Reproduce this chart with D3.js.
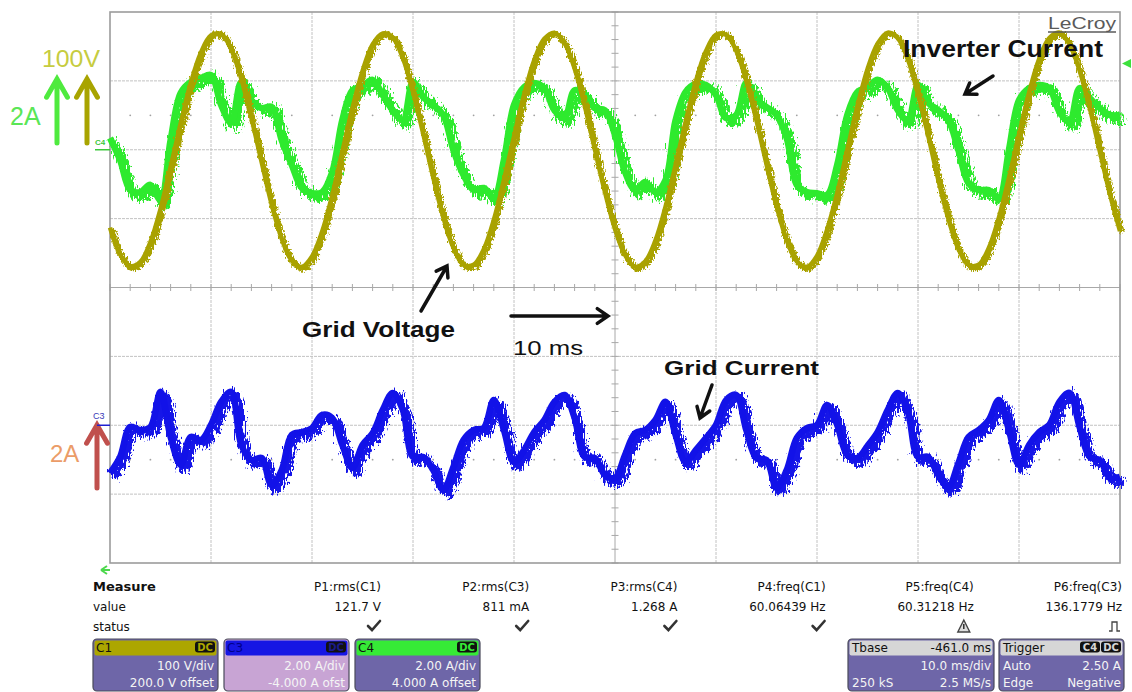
<!DOCTYPE html>
<html><head><meta charset="utf-8">
<script src="https://cdn.jsdelivr.net/npm/d3@7"></script>
<style>
html,body{margin:0;padding:0;background:#fff;}
svg{display:block;}
</style></head><body>
<svg id="scope" width="1132" height="692"></svg>
<script>
// Scope capture: grid voltage (C1), grid current (C3), inverter current (C4)
// Samples are 1 ms apart across the 10 div x 10 ms/div screen.
const sampleStepMs = 1;

// C1, volts
const gridVoltage = [
 -113,-152,-169,-163,-134,-86,-25,38,97,141,166,168,146,103,46,-17,-79,-129,-161,-170,
 -155,-119,-66,-3,60,114,153,169,163,133,84,24,-40,-98,-142,-167,-167,-145,-102,-44,
 19,80,130,161,170,155,118,64,1,-61,-115,-153,-170,-162,-132,-83,-22,41,99,143,
 167,167,144,100,43,-21,-82,-131,-162,-170,-154,-116,-63,0,63,117,154,170,162,131,
 81,21,-43,-100,-144,-167,-167,-143,-99,-41,22,83,132,162,170,153,115,61,-2,-64,-118
];

// C4, amps
const inverterCurrent = [
 0.34,-0.30,-1.17,-1.23,-1.02,-1.46,0.28,1.65,1.97,2.08,2.17,1.30,0.78,1.97,1.44,1.21,1.24,0.28,-0.44,-1.11,
 -1.26,-1.23,-0.65,0.86,1.73,1.85,2.03,1.59,1.15,0.86,1.97,1.53,1.30,1.01,-0.01,-0.73,-1.17,-1.11,-1.40,-0.30,
 1.30,1.82,1.94,1.79,1.15,0.92,1.73,1.59,1.21,1.15,0.43,-0.65,-1.17,-0.94,-1.23,-0.88,0.86,1.68,1.91,1.88,
 1.59,0.92,1.01,1.94,1.44,1.24,1.01,0.34,-1.02,-1.23,-1.26,-1.31,-0.44,1.01,1.68,1.82,2.03,1.79,1.15,0.86,
 1.88,1.36,1.15,0.86,-0.01,-0.97,-1.17,-1.17,-1.40,-0.01,1.44,1.79,1.88,1.79,1.10,0.81,1.79,1.50,1.21,1.01,1.01
];

// C3, amps
const gridCurrent = [
 -1.39,-0.92,-0.05,-0.14,-0.05,0.97,-0.34,-1.15,-0.34,-0.43,0.01,0.68,0.97,-0.57,-1.01,-0.95,-1.74,-1.30,-0.28,-0.20,
 -0.08,0.30,0.21,-0.57,-1.24,-0.57,-0.23,0.44,0.94,0.44,-0.92,-0.92,-1.30,-1.88,-1.21,-0.43,-0.14,-0.08,0.73,-0.14,
 -1.07,-0.72,-0.20,0.15,0.68,0.88,0.21,-0.92,-0.95,-1.44,-1.53,-0.86,-0.23,-0.14,0.15,0.68,-0.28,-1.07,-0.72,-0.37,
 0.01,0.73,0.88,-0.14,-0.95,-1.01,-1.82,-1.30,-0.37,-0.08,0.01,0.59,0.01,-0.86,-0.95,-0.60,-0.20,0.44,0.94,0.38,
 -0.92,-0.92,-1.44,-1.79,-1.10,-0.34,-0.14,0.15,0.73,-0.14,-1.15,-0.57,-0.20,0.01,0.68,0.94,-0.05,-0.92,-1.01,-1.53,-1.50
];

// Parameter readout
const measureNames  = ["P1:rms(C1)","P2:rms(C3)","P3:rms(C4)","P4:freq(C1)","P5:freq(C4)","P6:freq(C3)"];
const measureValues = ["121.7 V","811 mA","1.268 A","60.06439 Hz","60.31218 Hz","136.1779 Hz"];
const measureStatus = ["ok","ok","ok","ok","warn","pulse"];
const measureRows   = ["Measure","value","status"];

// Channel descriptor boxes
const chanNames   = ["C1","C3","C4"];
const chanScales  = ["100 V/div","2.00 A/div","2.00 A/div"];
const chanOffsets = ["200.0 V offset","-4.000 A ofst","4.000 A offset"];
const chanColors  = ["#aca600","#1616e4","#36ea36"];
const chanBodies  = ["#6e66a8","#c8a4d4","#6e66a8"];

// Timebase / trigger boxes
const tbaseHead = ["Tbase","-461.0 ms"];
const tbaseRow1 = ["","10.0 ms/div"];
const tbaseRow2 = ["250 kS","2.5 MS/s"];
const trigHead  = ["Trigger"];
const trigRow1  = ["Auto","2.50 A"];
const trigRow2  = ["Edge","Negative"];

const traceColors = {c1:"#a9a200", c3:"#1212e8", c4:"#2eea2e"};

// ---------------------------------------------------------------
const svg = d3.select("#scope");
const frame = {left:110, right:1120, top:12, bottom:563};
const DIVS_Y = 8;

const x = d3.scaleLinear().domain([0, 100]).range([frame.left, frame.right]);
function channelScale(perDiv, offset) {
  const c = -offset;
  return d3.scaleLinear().domain([c - DIVS_Y/2*perDiv, c + DIVS_Y/2*perDiv]).range([frame.bottom, frame.top]);
}
const yC1 = channelScale(100, 200);
const yC4 = channelScale(2, 4);
const yC3 = channelScale(2, -4);

const defs = svg.append("defs");
function fuzzFilter(id, fx, fy, scale, seed) {
  const f = defs.append("filter").attr("id", id)
    .attr("x", "-2%").attr("y", "-30%").attr("width", "104%").attr("height", "160%");
  f.append("feTurbulence").attr("type", "turbulence")
    .attr("baseFrequency", fx + " " + fy).attr("numOctaves", 2).attr("seed", seed).attr("result", "n");
  f.append("feDisplacementMap").attr("in", "SourceGraphic").attr("in2", "n")
    .attr("scale", scale).attr("xChannelSelector", "R").attr("yChannelSelector", "G");
}
fuzzFilter("fuzzCur", 0.9, 0.12, 15, 4);
fuzzFilter("fuzzBlue", 0.9, 0.12, 14, 9);
fuzzFilter("fuzzVolt", 0.9, 0.2, 7, 2);

// ---- graticule
const grid = svg.append("g");
const midV = yC1(-200);
const midT = x(50);
d3.range(10, 100, 10).forEach(t => {
  grid.append("line").attr("x1", x(t)).attr("x2", x(t)).attr("y1", frame.top).attr("y2", frame.bottom)
    .attr("stroke", t === 50 ? "#a8a8a8" : "#c2c2c2").attr("stroke-width", 1)
    .attr("stroke-dasharray", t === 50 ? null : "3,1");
});
d3.range(-500, 200, 100).forEach(v => {
  grid.append("line").attr("x1", frame.left).attr("x2", frame.right).attr("y1", yC1(v)).attr("y2", yC1(v))
    .attr("stroke", v === -200 ? "#a8a8a8" : "#c2c2c2").attr("stroke-width", 1)
    .attr("stroke-dasharray", v === -200 ? null : "3,1");
});
// minor ticks on the centre axes
d3.range(0, 101, 2).forEach(t => {
  grid.append("line").attr("x1", x(t)).attr("x2", x(t)).attr("y1", midV - 3.5).attr("y2", midV + 3.5)
    .attr("stroke", "#a8a8a8").attr("stroke-width", 1);
});
d3.range(-600, 201, 20).forEach(v => {
  grid.append("line").attr("x1", midT - 3.5).attr("x2", midT + 3.5).attr("y1", yC1(v)).attr("y2", yC1(v))
    .attr("stroke", "#a8a8a8").attr("stroke-width", 1);
});
// dotted half-division rows
[50, -450].forEach(v => {
  d3.range(2, 100, 2).filter(t => t % 10 !== 0).forEach(t => {
    grid.append("circle").attr("cx", x(t)).attr("cy", yC1(v)).attr("r", 0.9).attr("fill", "#a0a0a0");
  });
});
grid.append("rect").attr("x", frame.left).attr("y", frame.top)
  .attr("width", frame.right - frame.left).attr("height", frame.bottom - frame.top)
  .attr("fill", "none").attr("stroke", "#9c9c9c").attr("stroke-width", 1.6);

// ---- traces
const times = gridVoltage.map((_, i) => i * sampleStepMs);
function drawTrace(values, yScale, color, filterId, fuzzW, coreW, curve) {
  const line = d3.line().x((d, i) => x(times[i])).y(d => yScale(d)).curve(curve);
  const g = svg.append("g");
  g.append("path").datum(values).attr("d", line).attr("fill", "none")
    .attr("stroke", color).attr("stroke-width", fuzzW).attr("stroke-linejoin", "round")
    .attr("filter", "url(#" + filterId + ")");
  g.append("path").datum(values).attr("d", line).attr("fill", "none")
    .attr("stroke", color).attr("stroke-width", coreW).attr("stroke-linejoin", "round");
}
drawTrace(inverterCurrent, yC4, traceColors.c4, "fuzzCur", 9, 6.5, d3.curveCatmullRom.alpha(0.5));
drawTrace(gridVoltage, yC1, traceColors.c1, "fuzzVolt", 6, 4.5, d3.curveCatmullRom.alpha(0.5));
drawTrace(gridCurrent, yC3, traceColors.c3, "fuzzBlue", 9, 6.5, d3.curveCatmullRom.alpha(0.5));

// ---- annotations
const ann = svg.append("g").attr("font-family", "'Liberation Sans', Arial, sans-serif");
function arrow(x1, y1, x2, y2, color, w, head, spread) {
  const a = Math.atan2(y2 - y1, x2 - x1);
  const p = d3.path();
  p.moveTo(x1, y1); p.lineTo(x2, y2);
  p.moveTo(x2 - head * Math.cos(a - spread), y2 - head * Math.sin(a - spread));
  p.lineTo(x2, y2);
  p.lineTo(x2 - head * Math.cos(a + spread), y2 - head * Math.sin(a + spread));
  ann.append("path").attr("d", p.toString()).attr("fill", "none").attr("stroke", color)
    .attr("stroke-width", w).attr("stroke-linecap", "round").attr("stroke-linejoin", "miter");
}
arrow(57, 143, 57, 79, "#4fea3e", 5, 21, 0.52);
arrow(87, 143, 87, 79, "#a8a400", 5, 21, 0.52);
arrow(97, 488, 97, 425, "#c0504d", 5, 21, 0.52);

ann.append("text").attr("x", 42).attr("y", 67).attr("font-size", 24).attr("fill", "#c6cc40")
  .attr("textLength", 58).attr("lengthAdjust", "spacingAndGlyphs").text("100V");
ann.append("text").attr("x", 10).attr("y", 125).attr("font-size", 25).attr("fill", "#5ae656").text("2A");
ann.append("text").attr("x", 50).attr("y", 462).attr("font-size", 24).attr("fill", "#eb9c68").text("2A");

// channel ground markers
ann.append("text").attr("x", 95).attr("y", 145).attr("font-size", 8).attr("font-weight", "bold")
  .attr("fill", "#3cc83c").text("C4");
ann.append("line").attr("x1", 95).attr("x2", 110).attr("y1", yC4(0)).attr("y2", yC4(0))
  .attr("stroke", "#3cc83c").attr("stroke-width", 1.5);
ann.append("text").attr("x", 93).attr("y", 419).attr("font-size", 9)
  .attr("fill", "#3a3ab8").text("C3");
ann.append("line").attr("x1", 97).attr("x2", 110).attr("y1", yC3(0)).attr("y2", yC3(0))
  .attr("stroke", "#2020d0").attr("stroke-width", 1.5);
// trigger level marker and time-zero marker
ann.append("path").attr("d", "M1122,63.5 L1131,59 L1131,68 Z").attr("fill", "#3de03d");
ann.append("path").attr("d", "M101,570 L107,566 M101,570 L107,574 M101,570 L110,570")
  .attr("stroke", "#4cd84c").attr("stroke-width", 2).attr("fill", "none");

// LeCroy logo text
ann.append("text").attr("x", 1048).attr("y", 29).attr("font-size", 17).attr("fill", "#5a5a5a")
  .attr("textLength", 68).attr("lengthAdjust", "spacingAndGlyphs").text("LeCroy");
ann.append("line").attr("x1", 1048).attr("x2", 1116).attr("y1", 32).attr("y2", 32)
  .attr("stroke", "#5a5a5a").attr("stroke-width", 1.3);

// signal labels
function label(txt, x0, y0, size, len, bold) {
  ann.append("text").attr("x", x0).attr("y", y0).attr("font-size", size)
    .attr("font-weight", bold ? "bold" : "normal").attr("fill", "#111")
    .attr("textLength", len).attr("lengthAdjust", "spacingAndGlyphs").text(txt);
}
label("Inverter Current", 903, 57, 23, 200, true);
label("Grid Voltage", 302, 337, 22, 153, true);
label("Grid Current", 664, 375, 21, 155, true);
label("10 ms", 513, 355, 21, 70, false);
arrow(993, 76, 965, 94, "#111", 3.5, 12, 0.6);
arrow(421, 311, 447, 266, "#111", 3.5, 12, 0.6);
arrow(511, 316, 608, 316, "#111", 3.5, 13, 0.6);
arrow(712, 385, 700, 418, "#111", 3.5, 12, 0.6);

// ---- measurement table
const tbl = svg.append("g").attr("font-family", "'DejaVu Sans', Verdana, sans-serif").attr("font-size", 12).attr("fill", "#111");
const rowY = [591, 611, 631];
measureRows.forEach((r, i) => {
  tbl.append("text").attr("x", 93).attr("y", rowY[i]).attr("font-weight", i === 0 ? "bold" : "normal")
    .attr("font-size", i === 0 ? 13 : 12).text(r);
});
const colRight = measureNames.map((_, i) => 381 + i * 148.2);
measureNames.forEach((n, i) => {
  tbl.append("text").attr("x", colRight[i]).attr("y", rowY[0]).attr("text-anchor", "end").text(n);
  tbl.append("text").attr("x", colRight[i]).attr("y", rowY[1]).attr("text-anchor", "end").text(measureValues[i]);
  const cx = colRight[i] - 7, cy = rowY[2] - 5;
  if (measureStatus[i] === "ok") {
    tbl.append("path").attr("d", `M${cx-6},${cy} L${cx-2},${cy+4} L${cx+6},${cy-5}`)
      .attr("fill", "none").attr("stroke", "#333").attr("stroke-width", 2.6).attr("stroke-linecap", "round");
  } else if (measureStatus[i] === "warn") {
    tbl.append("path").attr("d", `M${cx-9},${cy+6} L${cx-3},${cy-6} L${cx+3},${cy+6} Z`)
      .attr("fill", "#ddd").attr("stroke", "#444").attr("stroke-width", 1.4);
    tbl.append("line").attr("x1", cx-3).attr("x2", cx-3).attr("y1", cy-2).attr("y2", cy+3)
      .attr("stroke", "#222").attr("stroke-width", 1.4);
  } else {
    tbl.append("path").attr("d", `M${cx-6},${cy+5} L${cx-3},${cy+5} L${cx-3},${cy-4} L${cx+2},${cy-4} L${cx+2},${cy+5} L${cx+5},${cy+5}`)
      .attr("fill", "none").attr("stroke", "#444").attr("stroke-width", 1.3);
  }
});

// ---- descriptor boxes
const boxTop = 639, boxH = 52, headH = 16;
function badge(g, xr, txt, fg) {
  g.append("rect").attr("x", xr - 21).attr("y", boxTop + 2.5).attr("width", 20).attr("height", 11)
    .attr("rx", 3).attr("fill", "#111");
  g.append("text").attr("x", xr - 11).attr("y", boxTop + 12).attr("text-anchor", "middle")
    .attr("font-size", 10).attr("font-weight", "bold").attr("fill", fg).text(txt);
}
function box(x0, w, headFill, bodyFill) {
  const g = svg.append("g").attr("font-family", "'DejaVu Sans', Verdana, sans-serif").attr("font-size", 12);
  g.append("rect").attr("x", x0).attr("y", boxTop).attr("width", w).attr("height", boxH)
    .attr("rx", 4).attr("fill", bodyFill).attr("stroke", "#4a4a5a").attr("stroke-width", 1.2);
  g.append("rect").attr("x", x0 + 1.5).attr("y", boxTop + 1.5).attr("width", w - 3).attr("height", headH - 1)
    .attr("rx", 2).attr("fill", headFill);
  return g;
}
const chanX = [93, 224, 355], chanW = 125;
chanNames.forEach((n, i) => {
  const g = box(chanX[i], chanW, chanColors[i], chanBodies[i]);
  g.append("text").attr("x", chanX[i] + 3).attr("y", boxTop + 13)
    .attr("fill", i === 1 ? "#00008a" : "#111").text(n);
  badge(g, chanX[i] + chanW - 2, "DC", i === 1 ? "#1a1a8a" : chanColors[i]);
  g.append("text").attr("x", chanX[i] + chanW - 4).attr("y", boxTop + 31).attr("text-anchor", "end")
    .attr("fill", "#f4f4f4").text(chanScales[i]);
  g.append("text").attr("x", chanX[i] + chanW - 4).attr("y", boxTop + 48).attr("text-anchor", "end")
    .attr("fill", "#f4f4f4").text(chanOffsets[i]);
});

const tbX = 848, tbW = 146;
const tb = box(tbX, tbW, "#d6d6d6", "#6e66a8");
tb.append("text").attr("x", tbX + 4).attr("y", boxTop + 13).attr("fill", "#111").text(tbaseHead[0]);
tb.append("text").attr("x", tbX + tbW - 3).attr("y", boxTop + 13).attr("text-anchor", "end").attr("fill", "#111").text(tbaseHead[1]);
tb.append("text").attr("x", tbX + tbW - 3).attr("y", boxTop + 31).attr("text-anchor", "end").attr("fill", "#f4f4f4").text(tbaseRow1[1]);
tb.append("text").attr("x", tbX + 4).attr("y", boxTop + 48).attr("fill", "#f4f4f4").text(tbaseRow2[0]);
tb.append("text").attr("x", tbX + tbW - 3).attr("y", boxTop + 48).attr("text-anchor", "end").attr("fill", "#f4f4f4").text(tbaseRow2[1]);

const trX = 999, trW = 125;
const tr = box(trX, trW, "#d6d6d6", "#6e66a8");
tr.append("text").attr("x", trX + 4).attr("y", boxTop + 13).attr("fill", "#111").text(trigHead[0]);
badge(tr, trX + trW - 2, "DC", "#d6d6d6");
badge(tr, trX + trW - 23, "C4", "#d6d6d6");
tr.append("text").attr("x", trX + 4).attr("y", boxTop + 31).attr("fill", "#f4f4f4").text(trigRow1[0]);
tr.append("text").attr("x", trX + trW - 3).attr("y", boxTop + 31).attr("text-anchor", "end").attr("fill", "#f4f4f4").text(trigRow1[1]);
tr.append("text").attr("x", trX + 4).attr("y", boxTop + 48).attr("fill", "#f4f4f4").text(trigRow2[0]);
tr.append("text").attr("x", trX + trW - 3).attr("y", boxTop + 48).attr("text-anchor", "end").attr("fill", "#f4f4f4").text(trigRow2[1]);
</script>
</body></html>
